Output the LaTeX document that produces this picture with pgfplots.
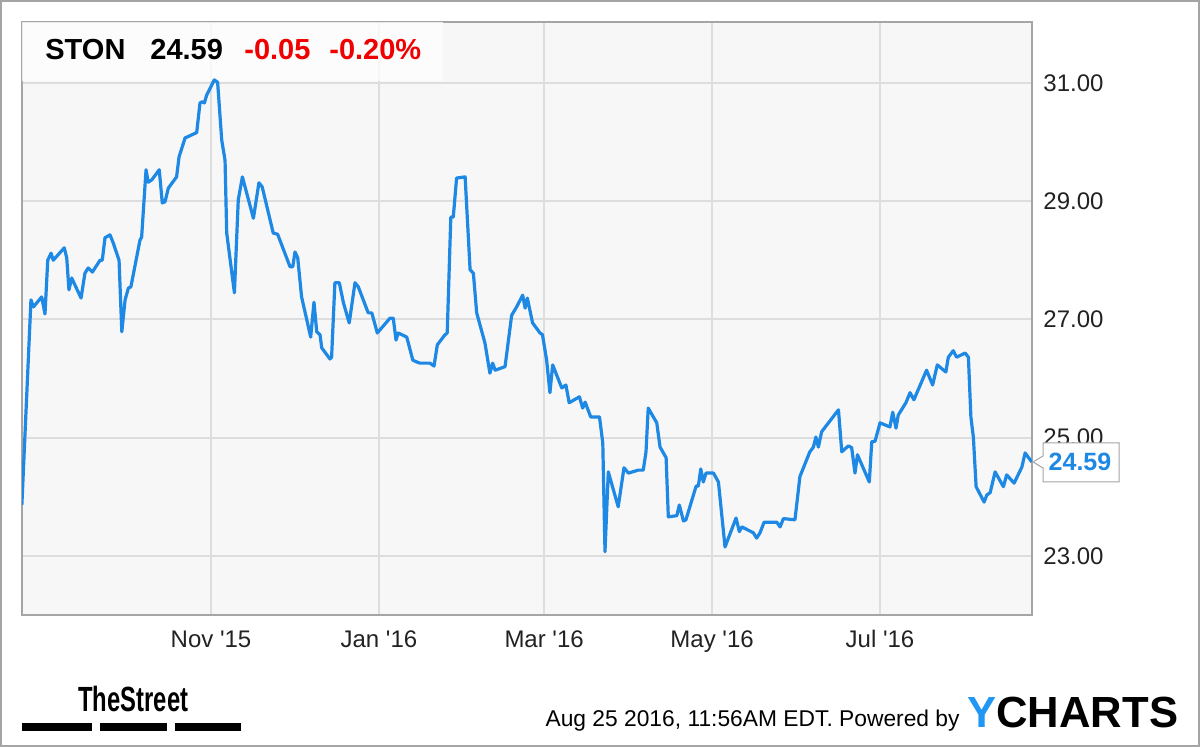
\documentclass[border=0pt]{standalone}
\usepackage{fontspec}
\setmainfont{Liberation Sans}
\usepackage{graphicx}
\usepackage{pgfplots}
\pgfplotsset{compat=1.18}
\definecolor{lineblue}{RGB}{30,136,229}
\definecolor{gridc}{RGB}{221,221,221}
\definecolor{bgc}{RGB}{247,247,247}
\definecolor{framec}{RGB}{165,165,165}
\definecolor{ylogo}{RGB}{33,150,243}
\definecolor{txt}{RGB}{34,34,34}
\definecolor{chg}{RGB}{240,0,0}
\begin{document}
\begin{tikzpicture}
\draw[framec, line width=1pt] (0.5pt,0.5pt) rectangle (599.5pt,373pt);
\begin{axis}[
  at={(11pt,66pt)}, anchor=south west,
  width=505pt, height=296.5pt, scale only axis,
  xmin=-68.65, xmax=298.2, ymin=22.0, ymax=32.03,
  axis background/.style={fill=bgc},
  axis line style={draw=framec, line width=1pt},
  xtick={0,61,121,182,243},
  xticklabels={Nov \textquotesingle15, Jan \textquotesingle16, Mar \textquotesingle16, May \textquotesingle16, Jul \textquotesingle16},
  ytick={23,25,27,29,31},
  yticklabels={23.00,25.00,27.00,29.00,31.00},
  yticklabel pos=right,
  major tick length=0pt,
  grid=major,
  major grid style={draw=gridc, line width=1pt},
  xticklabel style={anchor=base, inner sep=0pt, yshift=-16.5pt, font=\fontsize{12}{14}\selectfont, text=txt},
  yticklabel style={anchor=west, inner sep=0pt, xshift=5.5pt, font=\fontsize{12}{14}\selectfont, text=txt},
]
\fill[white, opacity=0.75] (axis cs:-68.65,31.03) rectangle (axis cs:84.3,32.03);
\addplot[lineblue, line width=1.6pt, line join=round, mark=none] coordinates {
(-68.7,23.86) (-65.4,27.33) (-64.5,27.21) (-61.5,27.38) (-60.3,27.09) (-59.3,28.00)
(-58.1,28.12) (-57.3,28.00) (-53.3,28.21) (-52.4,28.04) (-51.6,27.50) (-50.6,27.70)
(-47.2,27.36) (-45.8,27.78) (-44.6,27.87) (-43.1,27.80) (-40.3,28.00) (-39.5,28.00)
(-38.5,28.38) (-36.7,28.43) (-35.5,28.29) (-33.4,28.00) (-32.4,26.79) (-31.2,27.33)
(-30.0,27.53) (-29.1,27.55) (-25.8,28.34) (-25.2,28.39) (-23.6,29.53) (-22.8,29.32)
(-21.5,29.36) (-18.8,29.53) (-17.7,28.97) (-16.7,28.99) (-15.5,29.22) (-12.5,29.41)
(-11.6,29.75) (-9.4,30.07) (-8.4,30.09) (-5.2,30.16) (-4.0,30.66) (-3.2,30.68)
(-2.4,30.66) (-1.6,30.79) (1.2,31.05) (2.4,31.01) (3.9,30.03) (5.1,29.69)
(5.7,28.46) (8.5,27.45) (9.9,29.02) (11.4,29.41) (15.4,28.71) (17.4,29.31)
(18.6,29.24) (22.6,28.46) (24.2,28.44) (28.7,27.89) (29.7,27.89) (30.5,28.14)
(31.5,28.04) (32.9,27.38) (34.8,26.99) (36.2,26.70) (37.4,27.29) (38.4,26.79)
(39.6,26.74) (40.2,26.52) (43.2,26.33) (43.8,26.36) (45.0,27.62) (46.6,27.62)
(48.1,27.28) (50.2,26.94) (52.3,27.62) (53.5,27.55) (57.1,27.11) (58.4,27.11)
(60.4,26.77) (65.0,27.02) (66.2,27.02) (67.2,26.65) (68.0,26.77) (71.1,26.70)
(73.3,26.31) (74.7,26.28) (75.9,26.26) (79.5,26.26) (81.0,26.21) (82.2,26.57)
(85.0,26.74) (85.8,26.77) (87.1,28.73) (88.0,28.73) (89.2,29.39) (92.3,29.41)
(94.1,27.84) (95.3,27.78) (96.5,27.11) (99.5,26.60) (101.3,26.09) (102.3,26.26)
(103.2,26.14) (106.8,26.20) (109.2,27.07) (111.0,27.21) (113.2,27.41) (114.1,27.19)
(114.9,27.36) (116.8,26.94) (119.5,26.77) (120.4,26.74) (121.9,26.31) (123.1,25.76)
(124.1,26.23) (127.4,25.84) (128.9,25.89) (130.1,25.59) (133.8,25.69) (135.0,25.50)
(135.9,25.60) (137.9,25.35) (141.1,25.35) (142.3,24.91) (143.1,23.07) (144.3,24.42)
(147.9,23.83) (150.0,24.49) (151.6,24.40) (155.2,24.45) (157.0,24.45) (158.0,24.76)
(158.8,25.50) (161.9,25.25) (163.1,24.84) (165.3,24.66) (166.1,23.66) (169.2,23.68)
(170.1,23.86) (171.6,23.59) (172.5,23.61) (176.2,24.18) (177.0,24.18) (177.9,24.47)
(178.8,24.25) (179.8,24.40) (182.5,24.40) (184.3,24.25) (186.7,23.15) (190.7,23.64)
(191.9,23.41) (192.8,23.49) (197.0,23.39) (198.2,23.30) (199.4,23.39) (200.9,23.57)
(205.5,23.57) (206.7,23.49) (207.9,23.63) (212.1,23.61) (213.9,24.34) (217.5,24.76)
(218.8,24.84) (219.7,25.01) (220.6,24.84) (221.8,25.10) (227.9,25.47) (229.1,24.76)
(231.5,24.86) (232.7,24.83) (233.9,24.40) (234.8,24.71) (239.1,24.25) (240.0,24.93)
(241.2,24.94) (243.0,25.25) (246.6,25.18) (247.6,25.43) (248.8,25.16) (249.6,25.38)
(252.4,25.59) (253.9,25.76) (255.3,25.64) (259.9,26.14) (262.1,25.89) (263.8,26.23)
(266.9,26.11) (267.8,26.36) (269.6,26.47) (270.8,26.36) (273.9,26.43) (275.1,26.36)
(276.0,25.35) (276.9,25.01) (277.9,24.17) (280.8,23.91) (281.8,24.03) (283.0,24.07)
(284.8,24.42) (287.8,24.17) (289.0,24.37) (291.7,24.23) (294.5,24.50) (295.7,24.74)
(298.1,24.59)
};
\end{axis}
% header
\node[anchor=base west, inner sep=0pt, font=\bfseries\fontsize{14.5}{16}\selectfont, text=black] at (22.5pt,343.5pt) {STON};
\node[anchor=base west, inner sep=0pt, font=\bfseries\fontsize{14.5}{16}\selectfont, text=black] at (75pt,343.5pt) {24.59};
\node[anchor=base west, inner sep=0pt, font=\bfseries\fontsize{14.5}{16}\selectfont, text=chg] at (122pt,343.5pt) {-0.05};
\node[anchor=base west, inner sep=0pt, font=\bfseries\fontsize{14.5}{16}\selectfont, text=chg] at (164.5pt,343.5pt) {-0.20\%};
% last value callout
\filldraw[fill=white, draw=framec, line width=0.5pt] (516.5pt,142.5pt) -- (521.5pt,145.5pt) -- (521.5pt,152pt) -- (559.5pt,152pt) -- (559.5pt,132.5pt) -- (521.5pt,132.5pt) -- (521.5pt,139.5pt) -- cycle;
\node[inner sep=0pt, font=\bfseries\fontsize{12.5}{14}\selectfont, text=lineblue] at (540pt,142.5pt) {24.59};
% footer
\node[anchor=base west, inner sep=0pt, font=\bfseries\fontsize{17.5}{19}\selectfont] at (39pt,17.5pt) {\scalebox{0.68}[1]{TheStreet}};
\fill[black] (11pt,12pt) rectangle (46pt,8pt);
\fill[black] (50pt,12pt) rectangle (83.5pt,8pt);
\fill[black] (87.5pt,12pt) rectangle (120.5pt,8pt);
\node[anchor=base east, inner sep=0pt, font=\fontsize{11.4}{13}\selectfont, text=black] at (480pt,10pt) {Aug 25 2016, 11:56AM EDT. Powered by};
\node[anchor=base west, inner sep=0pt, font=\bfseries\fontsize{21.8}{23}\selectfont, text=black] at (483.5pt,9.5pt) {\textcolor{ylogo}{Y}CHARTS};
\end{tikzpicture}
\end{document}
